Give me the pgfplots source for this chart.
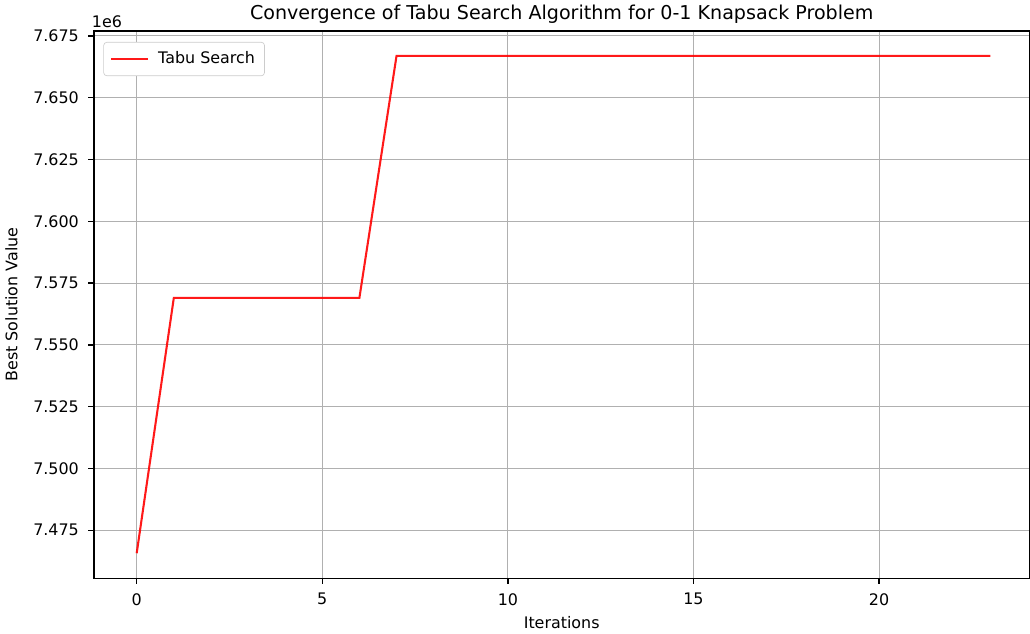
\documentclass[border=0pt]{standalone}
\usepackage{fontspec}
\setmainfont{DejaVu Sans}
\usepackage{pgfplots}
\pgfplotsset{compat=1.18}
\definecolor{gridgray}{HTML}{B0B0B0}
\definecolor{legframe}{HTML}{CCCCCC}
\begin{document}
\begin{tikzpicture}
\begin{axis}[
  scale only axis,
  width=588pt, height=344pt,
  xmin=-1.15, xmax=24.05,
  ymin=7455600, ymax=7677000,
  xtick={0,5,10,15,20},
  ytick={7475000,7500000,7525000,7550000,7575000,7600000,7625000,7650000,7675000},
  scaled y ticks=base 10:-6,
  ytick scale label code/.code={1e6},
  every y tick scale label/.style={at={(rel axis cs:0,1)},anchor=south west,inner sep=1pt,yshift=1pt},
  y tick label style={/pgf/number format/fixed,/pgf/number format/fixed zerofill,/pgf/number format/precision=3,xshift=-2.5pt},
  x tick label style={yshift=-2.5pt},
  /pgf/number format/assume math mode=true,
  tick label style={font=\fontsize{10}{12}\selectfont},
  tick align=outside,
  tick pos=left,
  major tick length=3.5pt,
  every tick/.style={black,line width=0.8pt},
  axis line style={black,line width=0.8pt},
  grid=major,
  major grid style={gridgray,line width=0.6pt},
  title={Convergence of Tabu Search Algorithm for 0-1 Knapsack Problem},
  title style={font=\fontsize{12}{14}\selectfont,yshift=-5pt},
  xlabel={Iterations},
  ylabel={Best Solution Value},
  ylabel style={yshift=3pt},
  label style={font=\fontsize{10}{12}\selectfont},
  legend style={font=\fontsize{10}{12}\selectfont,draw=legframe,rounded corners=2pt,at={(0.01,0.98)},anchor=north west,inner xsep=4pt,inner ysep=4pt},
  legend image code/.code={\draw[#1] (0pt,0pt) -- (23pt,0pt);},
  legend cell align=left,
]
\addplot[red, line width=1.3pt, opacity=0.9] coordinates {
(0,7465700) (1,7569000) (2,7569000) (3,7569000) (4,7569000) (5,7569000) (6,7569000)
(7,7666900) (8,7666900) (9,7666900) (10,7666900) (11,7666900) (12,7666900) (13,7666900)
(14,7666900) (15,7666900) (16,7666900) (17,7666900) (18,7666900) (19,7666900) (20,7666900)
(21,7666900) (22,7666900) (23,7666900)
};
\addlegendentry{\hspace{4pt}Tabu Search}
\end{axis}
\end{tikzpicture}
\end{document}
